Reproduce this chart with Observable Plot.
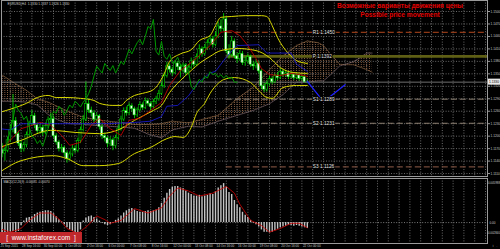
<!DOCTYPE html>
<html><head><meta charset="utf-8">
<script src="https://cdn.jsdelivr.net/npm/d3@7"></script>
<script src="https://cdn.jsdelivr.net/npm/@observablehq/plot@0.6"></script>
<style>
html,body{margin:0;padding:0;background:#000;}
#chart{position:relative;width:500px;height:249px;background:#000;overflow:hidden;font-family:"Liberation Sans",Arial,sans-serif;}
#chart svg{position:absolute;left:0;}
#title{position:absolute;left:330px;top:1px;width:140px;text-align:center;color:#e00000;font-weight:bold;font-size:6.6px;line-height:9px;white-space:nowrap;}
#wm{position:absolute;left:0;top:232px;width:82px;height:11px;background:#c0282c;color:#fff;font-size:6.6px;line-height:11px;text-align:center;white-space:pre;}
</style></head><body><div id="chart"><div id="title"></div><div id="wm"></div></div><script>
// ---------- data ----------
const symbolHeader = "EURUSD,H4  1.1330 1.1337 1.1326 1.1330";
const titleRu = "Возможные варианты движения цены";
const titleEn = "Possible price movement";
const watermark = "[  www.instaforex.com  ]";
const macdHeader = "MACD(12,26,9) -0.00081 -0.00070";

const open = [1.1162,1.1170,1.1158,1.1165,1.1190,1.1215,1.1236,1.1205,1.1182,1.1169,
1.1178,1.1203,1.1230,1.1248,1.1226,1.1212,1.1220,1.1208,1.1225,1.1238,
1.1241,1.1200,1.1185,1.1169,1.1172,1.1159,1.1145,1.1156,1.1170,1.1165,
1.1188,1.1215,1.1240,1.1277,1.1262,1.1255,1.1240,1.1248,1.1222,1.1200,
1.1195,1.1182,1.1190,1.1176,1.1195,1.1218,1.1240,1.1260,1.1255,1.1272,
1.1265,1.1250,1.1262,1.1275,1.1268,1.1284,1.1278,1.1270,1.1282,1.1289,
1.1302,1.1320,1.1345,1.1368,1.1360,1.1352,1.1375,1.1366,1.1358,1.1370,
1.1352,1.1365,1.1380,1.1372,1.1390,1.1409,1.1398,1.1412,1.1425,1.1433,
1.1420,1.1440,1.1464,1.1458,1.1481,1.1404,1.1395,1.1428,1.1392,1.1385,
1.1398,1.1376,1.1380,1.1390,1.1372,1.1368,1.1375,1.1356,1.1320,1.1312,
1.1325,1.1337,1.1330,1.1344,1.1340,1.1355,1.1348,1.1351,1.1342,1.1348,
1.1340,1.1346,1.1338,1.1342,1.1330];
const high = [1.1178,1.1182,1.1172,1.1198,1.1228,1.1300,1.1245,1.1212,1.1190,1.1185,
1.1210,1.1236,1.1262,1.1255,1.1232,1.1228,1.1226,1.1232,1.1246,1.1255,
1.1248,1.1206,1.1190,1.1180,1.1176,1.1165,1.1162,1.1178,1.1176,1.1195,
1.1222,1.1250,1.1330,1.1290,1.1270,1.1262,1.1256,1.1252,1.1228,1.1208,
1.1200,1.1198,1.1195,1.1202,1.1225,1.1248,1.1268,1.1270,1.1280,1.1278,
1.1270,1.1268,1.1282,1.1280,1.1292,1.1290,1.1282,1.1288,1.1296,1.1310,
1.1328,1.1352,1.1378,1.1374,1.1366,1.1382,1.1380,1.1372,1.1376,1.1374,
1.1372,1.1388,1.1385,1.1398,1.1420,1.1415,1.1420,1.1432,1.1442,1.1440,
1.1450,1.1475,1.1480,1.1495,1.1488,1.1420,1.1440,1.1434,1.1400,1.1406,
1.1404,1.1390,1.1398,1.1395,1.1380,1.1384,1.1380,1.1360,1.1328,1.1332,
1.1345,1.1342,1.1350,1.1352,1.1362,1.1360,1.1358,1.1355,1.1354,1.1350,
1.1352,1.1348,1.1346,1.1344,1.1337];
const low = [1.1150,1.1148,1.1140,1.1160,1.1185,1.1208,1.1198,1.1175,1.1160,1.1162,
1.1172,1.1198,1.1224,1.1218,1.1205,1.1204,1.1200,1.1203,1.1218,1.1230,
1.1195,1.1178,1.1162,1.1160,1.1150,1.1135,1.1140,1.1150,1.1158,1.1160,
1.1182,1.1210,1.1235,1.1255,1.1246,1.1232,1.1234,1.1215,1.1192,1.1186,
1.1172,1.1175,1.1165,1.1170,1.1190,1.1212,1.1235,1.1248,1.1250,1.1258,
1.1242,1.1245,1.1258,1.1262,1.1264,1.1272,1.1262,1.1266,1.1276,1.1284,
1.1298,1.1315,1.1340,1.1352,1.1344,1.1348,1.1358,1.1340,1.1352,1.1345,
1.1348,1.1360,1.1365,1.1368,1.1385,1.1390,1.1393,1.1406,1.1418,1.1412,
1.1415,1.1435,1.1450,1.1452,1.1398,1.1385,1.1390,1.1386,1.1375,1.1380,
1.1370,1.1368,1.1374,1.1366,1.1358,1.1362,1.1350,1.1312,1.1305,1.1306,
1.1320,1.1324,1.1326,1.1334,1.1336,1.1342,1.1343,1.1336,1.1338,1.1334,
1.1336,1.1332,1.1333,1.1328,1.1326];
const close = [1.1170,1.1158,1.1165,1.1190,1.1215,1.1236,1.1205,1.1182,1.1169,1.1178,
1.1203,1.1230,1.1248,1.1226,1.1212,1.1220,1.1208,1.1225,1.1238,1.1241,
1.1200,1.1185,1.1169,1.1172,1.1159,1.1145,1.1156,1.1170,1.1165,1.1188,
1.1215,1.1240,1.1277,1.1262,1.1255,1.1240,1.1248,1.1222,1.1200,1.1195,
1.1182,1.1190,1.1176,1.1195,1.1218,1.1240,1.1260,1.1255,1.1272,1.1265,
1.1250,1.1262,1.1275,1.1268,1.1284,1.1278,1.1270,1.1282,1.1289,1.1302,
1.1320,1.1345,1.1368,1.1360,1.1352,1.1375,1.1366,1.1358,1.1370,1.1352,
1.1365,1.1380,1.1372,1.1390,1.1409,1.1398,1.1412,1.1425,1.1433,1.1420,
1.1440,1.1464,1.1458,1.1481,1.1404,1.1395,1.1428,1.1392,1.1385,1.1398,
1.1376,1.1380,1.1390,1.1372,1.1368,1.1375,1.1356,1.1320,1.1312,1.1325,
1.1337,1.1330,1.1344,1.1340,1.1355,1.1348,1.1351,1.1342,1.1348,1.1340,
1.1346,1.1338,1.1342,1.1330,1.1330];
const lastPrice = 1.1330;
const chikouShift = 26;

// Bollinger bands (bar index, price)
const bbUpperBar = [0,5,10,14,18,21,25,30,35,37,42,45,47,50,53,57,61,63,67,71,74,78,80,82,86,91,97,99,101,103,107,110,114];
const bbUpper = [1.1257,1.1267,1.1279,1.1293,1.1298,1.1293,1.1293,1.1291,1.1286,1.1279,1.1274,1.1274,1.1286,1.1298,1.1303,1.1312,1.1350,1.1380,1.1398,1.1408,1.1430,1.1442,1.1466,1.1486,1.1488,1.1490,1.1490,1.1488,1.1466,1.1437,1.1399,1.1382,1.1375];
const bbMidBar = [0,8,19,28,37,45,50,57,60,63,67,71,74,78,82,88,95,100,104,109,114];
const bbMid = [1.1173,1.1190,1.1214,1.1209,1.1206,1.1218,1.1238,1.1262,1.1274,1.1305,1.1334,1.1358,1.1375,1.1392,1.1406,1.1411,1.1406,1.1389,1.1365,1.1353,1.1351];
const bbLowerBar = [0,8,20,25,31,37,44,50,56,62,65,68,71,73,76,78,81,83,87,93,96,99,101,105,110,114];
const bbLower = [1.1113,1.1141,1.1153,1.1146,1.1129,1.1129,1.1134,1.1158,1.1173,1.1194,1.1199,1.1197,1.1221,1.1255,1.1279,1.1303,1.1327,1.1336,1.1341,1.1329,1.1310,1.1293,1.1291,1.1317,1.1322,1.1322];

// Ichimoku
const tenkanBar = [0,4,8,12,15,19,23,26,30,34,37,41,45,48,52,56,60,63,67,71,74,78,82,86,89,92,95,97,100,104,108,111,114];
const tenkan = [1.1165,1.1190,1.1218,1.1226,1.1233,1.1226,1.1202,1.1178,1.1185,1.1226,1.1243,1.1218,1.1202,1.1238,1.1243,1.1262,1.1281,1.1322,1.1358,1.1377,1.1394,1.1418,1.1450,1.1454,1.1442,1.1418,1.1387,1.1363,1.1348,1.1346,1.1351,1.1348,1.1344];
const kijunBar = [0,4,8,20,40,50,56,60,62,66,70,72,74,78,80,82,84,86,88,96,99,108,110,114];
const kijun = [1.1218,1.1215,1.1230,1.1230,1.1230,1.1233,1.1236,1.1247,1.1272,1.1274,1.1297,1.1315,1.1331,1.1352,1.1356,1.1373,1.1390,1.1405,1.1418,1.1420,1.1400,1.1400,1.1373,1.1356];
const kumoBar = [0,5,10,14,18,22,26,30,35,40,45,50,55,60,64,70,75,81,88,94,100,105,110,114,118,120,123,126,129,131,134,136,138];
const spanA = [1.1351,1.1330,1.1310,1.1290,1.1282,1.1270,1.1258,1.1248,1.1240,1.1236,1.1233,1.1228,1.1228,1.1230,1.1236,1.1232,1.1240,1.1250,1.1290,1.1318,1.1360,1.1393,1.1418,1.1429,1.1425,1.1418,1.1395,1.1373,1.1372,1.1372,1.1365,1.1360,1.1354];
const spanB = [1.1284,1.1284,1.1282,1.1275,1.1252,1.1238,1.1230,1.1229,1.1226,1.1224,1.1222,1.1219,1.1205,1.1196,1.1215,1.1224,1.1222,1.1236,1.1250,1.1262,1.1278,1.1300,1.1330,1.1330,1.1333,1.1333,1.1350,1.1369,1.1375,1.1379,1.1390,1.1400,1.1400];

// projected move
const projBar = [114,120,128];
const projPrice = [1.1332,1.1283,1.1324];

// levels
const levelName = ["R1","P","S1","S2","S3"];
const levelValue = [1.1450,1.1392,1.1289,1.1231,1.1126];
const levelStartBar = 84;
const levelLabelBar = 116;

// axes
const priceTicks = [1.1500,1.1470,1.1440,1.1410,1.1380,1.1350,1.1320,1.1290,1.1260,1.1230,1.1200,1.1170,1.1140,1.1110];
const dateBars = [0,8,16,24,32,40,48,56,64,72,80,88,96,104,112];
const dateLabels = ["25 Sep 2015","28 Sep 16:00","30 Sep 00:00","1 Oct 08:00","2 Oct 16:00","6 Oct 00:00","7 Oct 08:00","8 Oct 16:00","12 Oct 00:00","13 Oct 08:00","14 Oct 16:00","16 Oct 00:00","19 Oct 08:00","20 Oct 16:00","22 Oct 00:00"];

// MACD
const macd = [-0.0027,-0.0022,-0.0016,-0.0014,-0.0013,-0.0012,-0.0013,-0.0012,-0.0004,0.0002,
0.0006,0.0007,0.0008,0.0011,0.0013,0.0014,0.0015,0.0016,0.0016,0.0015,
0.0012,0.0008,0.0004,0.0001,-0.0003,-0.0007,-0.0010,-0.0012,-0.0014,-0.0015,
-0.0010,0.0002,0.0006,0.0008,0.0009,0.0007,0.0005,0.0002,-0.0001,-0.0003,
-0.0004,-0.0003,-0.0001,0.0003,0.0005,0.0009,0.0013,0.0016,0.0018,0.0019,
0.0017,0.0015,0.0014,0.0014,0.0015,0.0016,0.0015,0.0016,0.0017,0.0020,
0.0026,0.0033,0.0040,0.0045,0.0048,0.0049,0.0049,0.0047,0.0046,0.0043,
0.0040,0.0038,0.0036,0.0036,0.0037,0.0035,0.0036,0.0037,0.0039,0.0038,
0.0042,0.0047,0.0050,0.0053,0.0048,0.0041,0.0038,0.0030,0.0024,0.0020,
0.0014,0.0010,0.0007,0.0003,-0.0001,-0.0003,-0.0006,-0.0010,-0.0013,-0.0013,
-0.0014,-0.0013,-0.0011,-0.0009,-0.0007,-0.0006,-0.0005,-0.0004,-0.0004,-0.0005,
-0.0004,-0.0005,-0.0006,-0.0007,-0.0008];
const signalBar = [0,4,8,11,15,19,22,25,29,33,36,39,41,45,50,55,60,63,66,70,74,79,84,87,89,93,97,100,104,108,111,114];
const signal = [-0.0008,-0.0013,-0.0008,0.0003,0.0013,0.0013,0.0005,-0.0008,-0.0015,-0.0003,0.0009,0.0004,-0.0001,0.0003,0.0019,0.0013,0.0020,0.0036,0.0047,0.0043,0.0036,0.0040,0.0049,0.0040,0.0025,0.0003,-0.0004,-0.0013,-0.0008,-0.0001,-0.0001,-0.0007];
const macdMax = 0.005988, macdMin = -0.002840;

// ---------- build ----------
const zip = (xs, ys) => xs.map((x, k) => ({i: x, v: ys[k]}));
const bars = close.map((c, i) => ({i, o: open[i], h: high[i], l: low[i], c}));
const bull = bars.filter(d => d.c >= d.o), bear = bars.filter(d => d.c < d.o);
const chikou = bars.filter(d => d.i >= chikouShift).map(d => ({i: d.i - chikouShift, v: d.c}));
const kumo = kumoBar.map((b, k) => ({i: b, a: spanA[k], b: spanB[k]}));
const levels = levelName.map((n, k) => ({n, v: levelValue[k]}));
const gridBars = d3.range(0, 184, 4);
const xDomain = [0.74, 180.74];
const font = "'Liberation Sans', Arial, sans-serif";
const KUMO = "#b4825b";
const green = "#00e800";

const main = Plot.plot({
  width: 500, height: 177, marginTop: 0, marginBottom: 1, marginLeft: 1, marginRight: 13,
  style: {background: "transparent", color: "#c8c8c8", fontFamily: font},
  x: {domain: xDomain, axis: null},
  y: {domain: [1.11029, 1.15265], axis: null},
  marks: [
    Plot.gridY(priceTicks, {stroke: "#6a6a6a", strokeOpacity: 1, strokeDasharray: "1,1.6"}),
    Plot.gridX(gridBars, {stroke: "#6a6a6a", strokeOpacity: 1, strokeDasharray: "1,1.6"}),
    Plot.areaY(kumo, {x: "i", y1: "a", y2: "b", fill: KUMO, clip: true}),
    Plot.line(kumo, {x: "i", y: "a", stroke: "#8a6444", strokeWidth: 0.8, strokeDasharray: "1,1", clip: true}),
    Plot.line(kumo, {x: "i", y: "b", stroke: "#806a70", strokeWidth: 0.8, strokeDasharray: "1,1", clip: true}),
    Plot.ruleY([lastPrice], {stroke: "#8c8c8c", strokeWidth: 0.8}),
    Plot.ruleY(levels.filter(d => d.n === "P"), {y: "v", x1: levelStartBar, x2: xDomain[1], stroke: "#5e5e14", strokeWidth: 2.6}),
    Plot.ruleY(levels.filter(d => d.n === "R1"), {y: "v", x1: levelStartBar, x2: xDomain[1], stroke: "#b4481e", strokeWidth: 1, strokeDasharray: "6,3"}),
    Plot.ruleY(levels.filter(d => d.n === "S1" || d.n === "S2"), {y: "v", x1: levelStartBar, x2: xDomain[1], stroke: "#8a7e70", strokeWidth: 1, strokeDasharray: "6,3"}),
    Plot.ruleY(levels.filter(d => d.n === "S3"), {y: "v", x1: levelStartBar, x2: xDomain[1], stroke: "#905c48", strokeWidth: 1, strokeDasharray: "6,3"}),
    Plot.ruleX(bars, {x: "i", y1: "l", y2: "h", stroke: green, strokeWidth: 0.8, clip: true}),
    Plot.rect(bull, {x1: d => d.i - 0.38, x2: d => d.i + 0.38, y1: "o", y2: "c", fill: "#000", stroke: green, strokeWidth: 0.5, clip: true}),
    Plot.rect(bear, {x1: d => d.i - 0.38, x2: d => d.i + 0.38, y1: "o", y2: "c", fill: "#f4fff4", stroke: green, strokeWidth: 0.5, clip: true}),
    Plot.line(zip(bbUpperBar, bbUpper), {x: "i", y: "v", stroke: "#d8d800", strokeWidth: 1, curve: "monotone-x", clip: true}),
    Plot.line(zip(bbMidBar, bbMid), {x: "i", y: "v", stroke: "#d8d800", strokeWidth: 1, curve: "monotone-x", clip: true}),
    Plot.line(zip(bbLowerBar, bbLower), {x: "i", y: "v", stroke: "#d8d800", strokeWidth: 1, curve: "monotone-x", clip: true}),
    Plot.line(zip(tenkanBar, tenkan), {x: "i", y: "v", stroke: "#d00000", strokeWidth: 0.8, clip: true}),
    Plot.line(zip(kijunBar, kijun), {x: "i", y: "v", stroke: "#1a1ae0", strokeWidth: 0.8, clip: true}),
    Plot.line(chikou, {x: "i", y: "v", stroke: "#009a00", strokeWidth: 1, clip: true}),
    Plot.line(zip(projBar, projPrice), {x: "i", y: "v", stroke: "#2020ff", strokeWidth: 1.3}),
    Plot.text(levels, {x: levelLabelBar, y: "v", text: d => d.n + " " + d.v.toFixed(4), textAnchor: "start", fontSize: 4.8, fill: "#e4e4e4", stroke: "#000", strokeWidth: 2, paintOrder: "stroke"}),
    Plot.frame({stroke: "#9a9a9a", strokeWidth: 1}),
    Plot.axisY({anchor: "right", ticks: priceTicks, tickFormat: d => d.toFixed(4), tickSize: 2, tickPadding: 1, fontSize: 3.2, stroke: "#9a9a9a"}),
    Plot.text([symbolHeader], {text: d => d, frameAnchor: "top-left", dx: 6, dy: 2, textAnchor: "start", lineAnchor: "top", fontSize: 3.2, fill: "#d0d0d0"})
  ]
});
main.style.top = "0px";

// kumo hatch pattern (vertical dotted lines at bar spacing)
const ns = "http://www.w3.org/2000/svg";
const defs = document.createElementNS(ns, "defs");
defs.innerHTML = '<pattern id="kumo" patternUnits="userSpaceOnUse" x="1.7" y="0" width="2.7" height="2"><rect width="0.9" height="1" fill="#8c6244"/></pattern>';
main.insertBefore(defs, main.firstChild);
main.querySelectorAll('[fill="' + KUMO + '"]').forEach(e => e.setAttribute("fill", "url(#kumo)"));

// current price box on the axis
const ys = main.scale("y");
const py = ys.apply(lastPrice);
const g = d3.select(main).append("g");
g.append("rect").attr("x", 488).attr("y", py - 3).attr("width", 12).attr("height", 6).attr("fill", "#e8e8e8");
g.append("text").attr("x", 494).attr("y", py).attr("dy", "0.35em").attr("text-anchor", "middle")
  .attr("font-size", 3.3).attr("fill", "#000").text(lastPrice.toFixed(4));

const macdPlot = Plot.plot({
  width: 500, height: 72, marginTop: 1, marginBottom: 6, marginLeft: 1, marginRight: 13,
  style: {background: "transparent", color: "#c8c8c8", fontFamily: font},
  x: {domain: xDomain, axis: null},
  y: {domain: [macdMin, macdMax], axis: null},
  marks: [
    Plot.gridX(gridBars, {stroke: "#6a6a6a", strokeOpacity: 1, strokeDasharray: "1,1.6"}),
    Plot.gridY([0], {stroke: "#7a7a7a", strokeOpacity: 1, strokeDasharray: "1,1.6"}),
    Plot.ruleX(macd.map((v, i) => ({i, v})), {x: "i", y1: 0, y2: "v", stroke: "#c4c4c4", strokeWidth: 1.4, clip: true}),
    Plot.line(zip(signalBar, signal), {x: "i", y: "v", stroke: "#d00000", strokeWidth: 0.8, clip: true}),
    Plot.frame({stroke: "#9a9a9a", strokeWidth: 1}),
    Plot.axisX({anchor: "bottom", ticks: dateBars, tickFormat: b => dateLabels[dateBars.indexOf(b)], tickSize: 0, tickPadding: 1.5, fontSize: 3.1, textAnchor: "start", dx: 1}),
    Plot.text([macdMax], {frameAnchor: "top-right", text: d => d.toFixed(6), dx: 12.5, dy: 3.5, textAnchor: "end", fontSize: 2.9, fill: "#c8c8c8"}),
    Plot.text([0], {x: xDomain[1], y: d => d, text: () => "0.00", dx: 2, textAnchor: "start", fontSize: 3.1, fill: "#c8c8c8"}),
    Plot.text([macdMin], {frameAnchor: "bottom-right", text: d => d.toFixed(6), dx: 12.5, dy: -10, textAnchor: "end", fontSize: 2.9, fill: "#c8c8c8"}),
    Plot.text([macdHeader], {text: d => d, frameAnchor: "top-left", dx: 2, dy: 2, textAnchor: "start", lineAnchor: "top", fontSize: 3, fill: "#d0d0d0"})
  ]
});
macdPlot.style.top = "177px";

const chart = document.getElementById("chart");
chart.insertBefore(macdPlot, chart.firstChild);
chart.insertBefore(main, chart.firstChild);
document.getElementById("title").innerHTML = titleRu + "<br>" + titleEn;
document.getElementById("wm").textContent = watermark;
</script></body></html>
